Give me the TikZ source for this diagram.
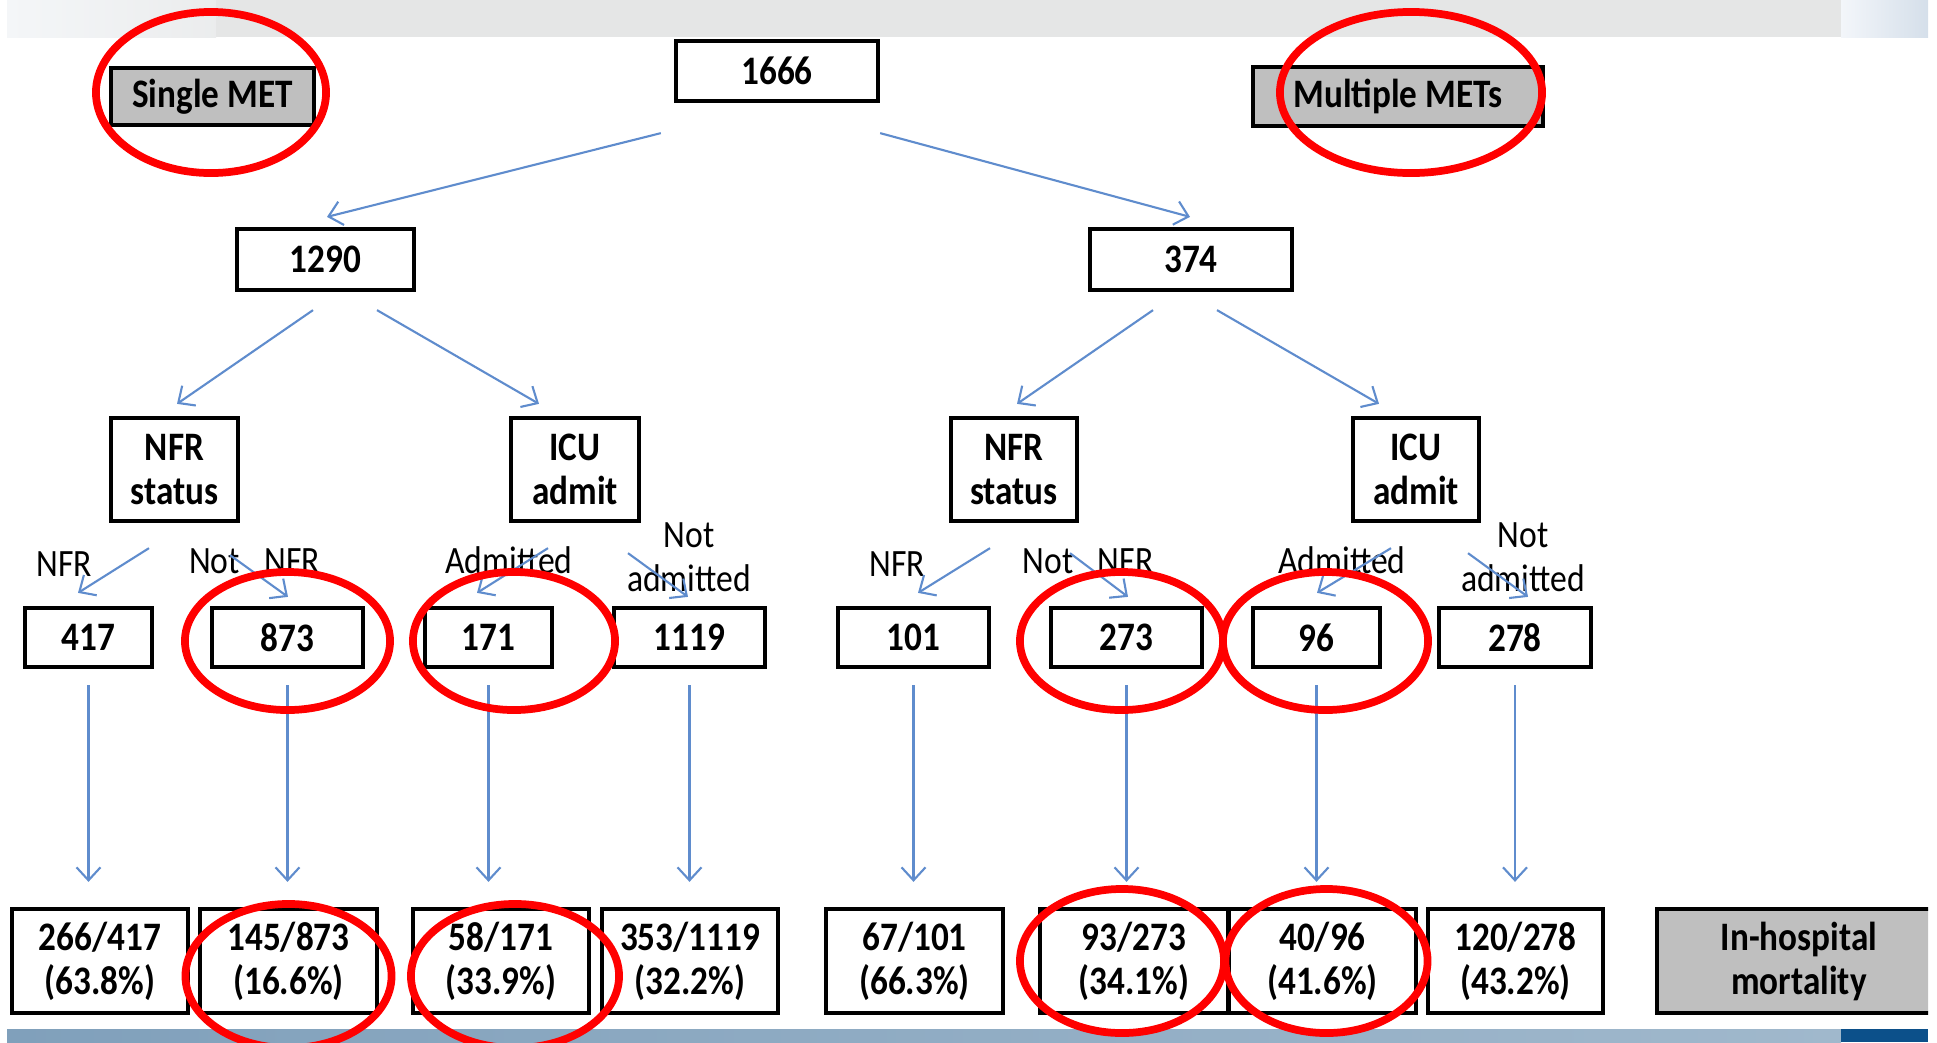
\documentclass[tikz,border=0pt]{standalone}
\usepackage{fontspec}
\setmainfont{Carlito}[FakeStretch=0.87]
\usepackage{tikz}
\usetikzlibrary{arrows.meta,calc}

\definecolor{flowblue}{RGB}{95,140,205}
\definecolor{tabgray}{RGB}{191,191,191}
\definecolor{bandgray}{RGB}{229,230,230}
\definecolor{bandlight}{RGB}{244,246,248}
\definecolor{bandblue}{RGB}{128,160,187}
\definecolor{bandpale}{RGB}{160,184,204}
\definecolor{navy}{RGB}{12,80,138}

\begin{document}
\begin{tikzpicture}[x=0.01cm, y=-0.01cm, >={Straight Barb[length=1.3mm,width=2.4mm]},
    numbox/.style={draw, line width=1.2pt, inner sep=0pt, align=center,
      font=\fontsize{11.5}{12.5}\selectfont\bfseries},
    graybox/.style={numbox, fill=tabgray},
    lbl/.style={inner sep=0pt, align=center, font=\fontsize{11}{12.5}\selectfont},
    flow/.style={->, color=flowblue, line width=0.6pt},
    ring/.style={draw=red, line width=2.2pt}]
    \useasboundingbox (0,0) rectangle (1937,1042);
    \begin{scope}
    \clip (0,0) rectangle (1928,1042);
    % slide bands
    \fill[bandgray] (7,0) rectangle (1841,37);
    \shade[left color=bandlight, right color=bandgray!60!bandlight] (7,0) rectangle (216,37);
    \shade[left color={rgb,255:red,243;green,246;blue,250}, right color={rgb,255:red,213;green,223;blue,234}] (1841,0) rectangle (1928,37);
    \shade[left color=bandblue, right color=bandpale] (7,1029) rectangle (1841,1042);
    \fill[navy] (1841,1029) rectangle (1928,1042);

    % top levels
    \node[numbox, minimum width=2.02cm, minimum height=0.60cm](n1666) at (777,71) {1666};
    \node[graybox, minimum width=2.03cm, minimum height=0.57cm](single) at (212.5,96.5) {Single MET};
    \node[graybox, minimum width=2.90cm, minimum height=0.59cm](multiple) at (1398,96.5) {Multiple METs};
    \node[numbox, minimum width=1.77cm, minimum height=0.61cm](n1290) at (325.5,259.5) {1290};
    \node[numbox, minimum width=2.02cm, minimum height=0.61cm](n374) at (1191,259.5) {374};

    % decisions
    \node[numbox, minimum width=1.27cm, minimum height=1.03cm](nfrL) at (174.5,469.5) {NFR\\status};
    \node[numbox, minimum width=1.28cm, minimum height=1.03cm](icuL) at (575,469.5) {ICU\\admit};
    \node[numbox, minimum width=1.26cm, minimum height=1.03cm](nfrR) at (1014,469.5) {NFR\\status};
    \node[numbox, minimum width=1.26cm, minimum height=1.03cm](icuR) at (1416,469.5) {ICU\\admit};

    % counts
    \node[numbox, minimum width=1.27cm, minimum height=0.59cm](n417) at (88.5,637.5) {417};
    \node[numbox, minimum width=1.51cm, minimum height=0.59cm](n873) at (287.5,637.5) {873};
    \node[numbox, minimum width=1.27cm, minimum height=0.59cm](n171) at (488.5,637.5) {171};
    \node[numbox, minimum width=1.51cm, minimum height=0.59cm](n1119) at (689.5,637.5) {1119};
    \node[numbox, minimum width=1.51cm, minimum height=0.59cm](n101) at (913.5,637.5) {101};
    \node[numbox, minimum width=1.51cm, minimum height=0.59cm](n273) at (1126.5,637.5) {273};
    \node[numbox, minimum width=1.27cm, minimum height=0.59cm](n96) at (1316.5,637.5) {96};
    \node[numbox, minimum width=1.52cm, minimum height=0.59cm](n278) at (1515,637.5) {278};

    % mortality
    \node[numbox, minimum width=1.76cm, minimum height=1.04cm](m417) at (100,961) {266/417\\(63.8\%)};
    \node[numbox, minimum width=1.77cm, minimum height=1.04cm](m873) at (288.5,961) {145/873\\(16.6\%)};
    \node[numbox, minimum width=1.76cm, minimum height=1.04cm](m171) at (501,961) {58/171\\(33.9\%)};
    \node[numbox, minimum width=1.76cm, minimum height=1.04cm](m1119) at (690,961) {353/1119\\(32.2\%)};
    \node[numbox, minimum width=1.77cm, minimum height=1.04cm](m101) at (914.5,961) {67/101\\(66.3\%)};
    \node[numbox, minimum width=1.88cm, minimum height=1.04cm](m273) at (1134,961) {93/273\\(34.1\%)};
    \node[numbox, minimum width=1.87cm, minimum height=1.04cm](m96) at (1322.5,961) {40/96\\(41.6\%)};
    \node[numbox, minimum width=1.75cm, minimum height=1.04cm](m278) at (1515.5,961) {120/278\\(43.2\%)};
    \node[graybox, minimum width=2.84cm, minimum height=1.04cm](mort) at (1799,961) {In-hospital\\mortality};

    % branch labels
    \node[lbl](tNfrL) at (64,564.5) {NFR};
    \node[lbl](tNotL) at (254.5,561) {Not\hspace{7pt}NFR};
    \node[lbl](tAdmL) at (509,560) {Admitted};
    \node[lbl](tNadL) at (689,557) {Not\\admitted};
    \node[lbl](tNfrR) at (897.5,564.5) {NFR};
    \node[lbl](tNotR) at (1088,561) {Not\hspace{7pt}NFR};
    \node[lbl](tAdmR) at (1342,560) {Admitted};
    \node[lbl](tNadR) at (1523,557) {Not\\admitted};

    \path[flow] ($(n1666.south west)+(-13,30)$) edge ($(n1290.north)+(1.5,-10)$)
    ($(n1666.south east)+(0,30)$) edge ($(n374.north)+(-1,-10)$)
    ($(n1290.south)+(-12.5,18)$) edge ($(nfrL.north)+(2.5,-12)$)
    ($(n1290.south)+(51.5,18)$) edge ($(icuL.north)+(-36,-12)$)
    ($(n374.south)+(-38,18)$) edge ($(nfrR.north)+(3,-12)$)
    ($(n374.south)+(26,18)$) edge ($(icuR.north)+(-37,-12)$)
    ($(nfrL.south)+(-25.5,25)$) edge ($(n417.north)+(-10.5,-13)$)
    ($(nfrL.south)+(55.5,32)$) edge ($(n873.north)+(0.5,-9)$)
    ($(icuL.south)+(-27,25)$) edge ($(n171.north)+(-11.5,-13)$)
    ($(icuL.south)+(53,30)$) edge ($(n1119.north)+(-1.5,-9)$)
    ($(nfrR.south)+(-24,25)$) edge ($(n101.north)+(4.5,-13)$)
    ($(nfrR.south)+(56,30)$) edge ($(n273.north)+(1.5,-9)$)
    ($(icuR.south)+(-25,25)$) edge ($(n96.north)+(0.5,-13)$)
    ($(icuR.south)+(52,30)$) edge ($(n278.north)+(13,-9)$);
    \path[flow, shorten <=0.16cm, shorten >=0.25cm] (n417.south) edge (n417.south |- m417.north)
    (n873.south) edge (n873.south |- m873.north)
    (n171.south) edge (n171.south |- m171.north)
    (n1119.south) edge (n1119.south |- m1119.north)
    (n101.south) edge (n101.south |- m101.north)
    (n273.south) edge (n273.south |- m273.north)
    (n96.south) edge (n96.south |- m96.north)
    (n278.south) edge (n278.south |- m278.north);

    % highlight rings
    \draw[ring] (211,92.5) ellipse [x radius=1.15cm, y radius=0.805cm];
    \draw[ring] (1411,92.5) ellipse [x radius=1.31cm, y radius=0.805cm];
    \draw[ring] (287.5,641) ellipse [x radius=1.025cm, y radius=0.69cm];
    \draw[ring] (514,641) ellipse [x radius=1.01cm, y radius=0.69cm];
    \draw[ring] (1121.5,641) ellipse [x radius=1.015cm, y radius=0.69cm];
    \draw[ring] (1325.5,641) ellipse [x radius=1.025cm, y radius=0.69cm];
    \draw[ring] (288.5,976) ellipse [x radius=1.03cm, y radius=0.72cm];
    \draw[ring] (515,976) ellipse [x radius=1.04cm, y radius=0.72cm];
    \draw[ring] (1122,961) ellipse [x radius=1.02cm, y radius=0.72cm];
    \draw[ring] (1326.5,961) ellipse [x radius=1.01cm, y radius=0.72cm];
    \end{scope}
\end{tikzpicture}
\end{document}
